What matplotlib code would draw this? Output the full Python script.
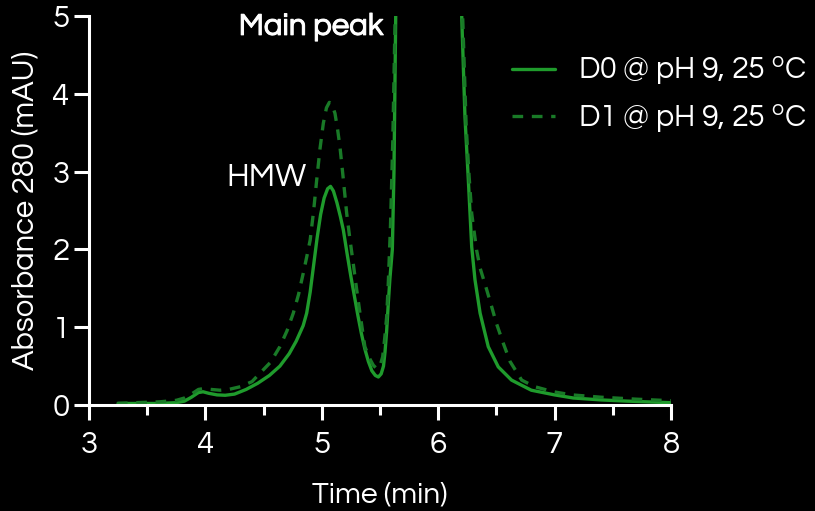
import matplotlib
matplotlib.use("Agg")
import matplotlib.pyplot as plt
import matplotlib.patheffects as pe
from matplotlib.ticker import MultipleLocator

FONT = ['Questrial', 'Didact Gothic', 'DejaVu Sans']
plt.rcParams['font.family'] = FONT
plt.rcParams['mathtext.fontset'] = 'custom'
plt.rcParams['mathtext.rm'] = 'Questrial'
plt.rcParams['mathtext.it'] = 'Questrial'
plt.rcParams['mathtext.bf'] = 'Questrial'

# D0 @ pH 9, 25 °C (solid)
d0_time = [3.25, 3.40, 3.60, 3.75, 3.82, 3.88, 3.94, 3.98, 4.03, 4.10, 4.17, 4.25,
           4.35, 4.45, 4.55, 4.64, 4.72, 4.78, 4.84, 4.87, 4.90, 4.93, 4.96, 4.99,
           5.02, 5.05, 5.075, 5.10, 5.13, 5.16, 5.185, 5.22, 5.25, 5.28, 5.31, 5.34,
           5.37, 5.40, 5.43, 5.46, 5.486, 5.51, 5.53, 5.543, 5.557, 5.571, 5.585, 5.606,
           5.62, 5.635, 5.66, 5.90, 6.17, 6.202, 6.23, 6.259, 6.288, 6.316, 6.36, 6.43,
           6.516, 6.63, 6.80, 7.00, 7.16, 7.40, 7.62, 7.80, 8.00]
d0_abs = [0.02, 0.02, 0.02, 0.03, 0.05, 0.10, 0.16, 0.17, 0.15, 0.13, 0.125, 0.14,
          0.20, 0.28, 0.38, 0.50, 0.66, 0.82, 1.02, 1.18, 1.45, 1.80, 2.15, 2.45,
          2.66, 2.78, 2.81, 2.75, 2.60, 2.42, 2.25, 1.92, 1.65, 1.40, 1.15, 0.92,
          0.72, 0.56, 0.44, 0.38, 0.36, 0.40, 0.50, 0.68, 0.95, 1.30, 1.62, 2.00,
          3.00, 5.00, 9.0, 40.0, 9.0, 5.00, 3.70, 2.89, 2.03, 1.61, 1.18, 0.75,
          0.49, 0.32, 0.19, 0.13, 0.09, 0.065, 0.05, 0.04, 0.03]

# D1 @ pH 9, 25 °C (dashed)
d1_time = [3.24, 3.40, 3.60, 3.75, 3.82, 3.88, 3.94, 3.98, 4.05, 4.125, 4.20, 4.30,
           4.40, 4.47, 4.56, 4.64, 4.70, 4.755, 4.80, 4.84, 4.87, 4.90, 4.93, 4.956,
           4.985, 5.013, 5.04, 5.065, 5.09, 5.113, 5.135, 5.156, 5.185, 5.214, 5.24, 5.27,
           5.30, 5.328, 5.37, 5.41, 5.443, 5.47, 5.50, 5.523, 5.54, 5.557, 5.571, 5.59,
           5.61, 5.63, 5.66, 5.90, 6.18, 6.21, 6.24, 6.265, 6.288, 6.33, 6.36, 6.417,
           6.46, 6.50, 6.56, 6.617, 6.717, 6.83, 6.99, 7.15, 7.40, 7.70, 8.00]
d1_abs = [0.02, 0.03, 0.04, 0.06, 0.09, 0.14, 0.20, 0.21, 0.20, 0.19, 0.20, 0.235,
          0.30, 0.41, 0.55, 0.75, 0.95, 1.18, 1.42, 1.69, 1.90, 2.12, 2.50, 2.89,
          3.30, 3.62, 3.82, 3.89, 3.85, 3.75, 3.55, 3.32, 2.90, 2.46, 2.15, 1.82,
          1.48, 1.18, 0.75, 0.60, 0.51, 0.47, 0.50, 0.62, 0.85, 1.13, 1.56, 2.30,
          3.40, 5.00, 9.0, 40.0, 9.0, 5.00, 3.60, 2.95, 2.46, 1.99, 1.76, 1.48,
          1.26, 1.05, 0.79, 0.56, 0.32, 0.235, 0.17, 0.13, 0.10, 0.075, 0.055]

x_ticks = [3, 4, 5, 6, 7, 8]
y_ticks = [0, 1, 2, 3, 4, 5]

solid_color = '#1f9b2c'
dash_color = '#197a27'

fig = plt.figure(figsize=(8.15, 5.11), dpi=100, facecolor='black')
ax = fig.add_axes([89/815, 1-405/511, (671-89)/815, (405-16)/511])
ax.set_facecolor('black')

ax.plot(d0_time, d0_abs, color=solid_color, lw=2.4, label='D0 @ pH 9, 25 $^{\\mathrm{o}}$C',
        solid_capstyle='round', solid_joinstyle='round')
ax.plot(d1_time, d1_abs, color=dash_color, lw=2.4, dashes=(3.2, 2.6),
        label='D1 @ pH 9, 25 $^{\\mathrm{o}}$C')

ax.set_xlim(3, 8)
ax.set_ylim(0, 5)
ax.set_xticks(x_ticks)
ax.set_yticks(y_ticks)
ax.xaxis.set_minor_locator(MultipleLocator(0.5))

for s in ['top', 'right']:
    ax.spines[s].set_visible(False)
for s in ['left', 'bottom']:
    ax.spines[s].set_color('white')
    ax.spines[s].set_linewidth(2.2)

fs = 22.5
ax.tick_params(axis='both', which='major', colors='white', width=2.2, length=11,
               labelsize=fs, pad=8)
ax.tick_params(axis='x', which='minor', colors='white', width=2.2, length=7)
ax.tick_params(axis='y', which='major', pad=3)

ax.set_xlabel('Time (min)', color='white', fontsize=21.5, labelpad=16)
ax.set_ylabel('Absorbance 280 (mAU)', color='white', fontsize=22.3)
ax.yaxis.set_label_coords(-0.0859, 0.5)

ax.text(4.873, 2.92, 'HMW', color='white', fontsize=23.5, ha='right', va='center')
ax.text(5.526, 4.86, 'Main peak', color='white', fontsize=fs, ha='right', va='center',
        path_effects=[pe.withStroke(linewidth=0.7, foreground='white')])

leg = ax.legend(loc='upper left', bbox_to_anchor=(423/582, 0.90), frameon=False,
                fontsize=22, handlelength=1.4, handletextpad=0.76, labelspacing=0.5,
                borderaxespad=0, borderpad=0)
for t in leg.get_texts():
    t.set_color('white')

fig.savefig('out.png', dpi=100, facecolor='black')
